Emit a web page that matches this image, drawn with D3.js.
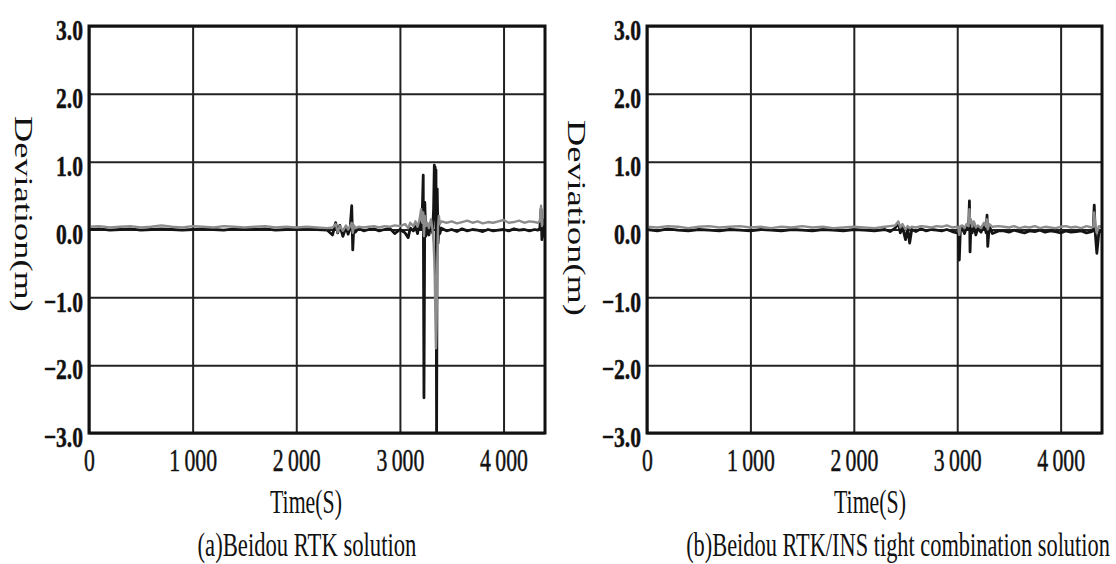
<!DOCTYPE html>
<html>
<head>
<meta charset="utf-8">
<script src="https://cdn.jsdelivr.net/npm/d3@7"></script>
<style>
  body { margin: 0; background: #fff; }
  svg { display: block; background: #fff; }
</style>
</head>
<body>
<svg width="1116" height="564"></svg>
<script>
// time stamps (s) and deviations (m)
var timesA = [
    0, 100, 200, 300, 400, 500, 600, 700, 800, 900, 1000, 1100, 1200, 1300, 1400, 1500, 1600, 1700, 1800, 1900, 2000, 2100, 2200, 2300,
    2350, 2380, 2400, 2420, 2450, 2480, 2500, 2520, 2535, 2545, 2555, 2570, 2600, 2650, 2700, 2750, 2800, 2850, 2900, 2950, 3000,
    3050, 3080, 3100, 3130, 3150, 3170, 3190, 3205, 3215, 3225, 3232, 3240, 3250, 3265, 3280, 3300, 3315, 3325, 3332, 3336, 3340, 3344, 3348, 3354, 3360, 3368, 3376, 3385, 3400,
    3450, 3500, 3550, 3600, 3650, 3700, 3750, 3800, 3850, 3900, 3950, 4000, 4050, 4100, 4150, 4200, 4250, 4300, 4330, 4350, 4362, 4370, 4380, 4390, 4400
];
var blackA = [
    0.00, 0.01, -0.01, 0.00, 0.01, -0.01, 0.00, 0.01, 0.00, -0.01, 0.00, 0.01, 0.00, -0.01, 0.01, 0.00, 0.00, 0.01, -0.01, 0.00, 0.00, 0.01, 0.00, -0.01,
    -0.08, 0.10, -0.05, 0.06, -0.10, 0.04, -0.07, 0.02, 0.35, -0.30, 0.05, -0.04, 0.02, -0.02, 0.00, 0.01, -0.02, 0.00, 0.02, -0.06, 0.00,
    -0.05, -0.12, 0.02, -0.02, 0.05, -0.06, 0.10, 0.00, 0.20, 0.80, -2.48, 0.40, -0.10, 0.05, -0.08, 0.10, -0.05, 0.30, 0.95, 0.15, 0.92, 0.20, 0.88, -3.05, 0.60, -0.20, 0.05, -0.06, 0.02,
    -0.02, 0.00, -0.03, 0.01, -0.02, 0.00, -0.01, -0.03, 0.00, -0.02, -0.01, 0.00, -0.02, 0.01, -0.01, 0.00, -0.02, 0.00, -0.01, 0.02, 0.30, -0.15, 0.05, -0.10, 0.00
];
var grayA = [
    0.04, 0.05, 0.03, 0.04, 0.05, 0.03, 0.04, 0.06, 0.04, 0.03, 0.05, 0.04, 0.03, 0.05, 0.04, 0.03, 0.04, 0.05, 0.03, 0.04, 0.03, 0.04, 0.03, 0.02,
    0.03, 0.08, -0.04, 0.05, -0.02, 0.06, 0.00, 0.05, 0.10, -0.05, 0.06, 0.02, 0.04, 0.03, 0.04, 0.05, 0.03, 0.05, 0.04, 0.06, 0.05,
    0.08, 0.02, 0.10, 0.05, 0.12, 0.04, 0.15, 0.30, 0.10, 0.25, -0.10, 0.20, 0.05, 0.10, 0.02, 0.15, 0.00, -0.20, -0.45, -0.70, -1.05, -1.40, -1.75, -1.40, -0.50, 0.05, 0.20, 0.08, 0.12,
    0.10, 0.12, 0.09, 0.11, 0.13, 0.10, 0.12, 0.09, 0.11, 0.10, 0.12, 0.14, 0.10, 0.11, 0.13, 0.10, 0.12, 0.11, 0.10, 0.12, 0.35, 0.05, 0.15, 0.08, 0.10
];

var timesB = [
    0, 100, 200, 300, 400, 500, 600, 700, 800, 900, 1000, 1100, 1200, 1300, 1400, 1500, 1600, 1700, 1800, 1900, 2000, 2100, 2200, 2300,
    2350, 2400, 2430, 2450, 2470, 2500, 2520, 2540, 2560, 2600, 2650, 2700, 2750, 2800, 2850, 2900, 2950, 3000,
    3010, 3020, 3030, 3050, 3070, 3090, 3110, 3118, 3124, 3132, 3145, 3160, 3180, 3200, 3230, 3260, 3280, 3288, 3295, 3310, 3340, 3400,
    3450, 3500, 3550, 3600, 3650, 3700, 3750, 3800, 3850, 3900, 3950, 4000, 4050, 4100, 4150, 4200, 4250, 4300, 4315, 4325, 4335, 4350, 4370, 4400
];
var blackB = [
    0.00, -0.02, 0.01, -0.01, -0.02, 0.00, -0.01, -0.02, 0.00, -0.01, -0.02, 0.00, -0.01, -0.02, 0.00, -0.01, -0.02, 0.00, -0.01, -0.02, 0.00, -0.01, -0.02, 0.00,
    -0.03, 0.02, 0.10, -0.05, 0.04, -0.15, 0.02, -0.20, 0.00, -0.03, 0.01, -0.02, 0.00, -0.01, -0.02, 0.00, -0.03, -0.05,
    -0.05, -0.45, -0.02, 0.02, -0.06, 0.03, 0.00, 0.42, -0.33, 0.05, -0.05, 0.10, -0.08, 0.02, -0.04, 0.08, -0.05, 0.21, -0.25, 0.05, -0.06, -0.02,
    -0.02, -0.04, -0.01, -0.03, -0.05, -0.02, -0.03, -0.01, -0.04, -0.02, -0.03, -0.05, -0.02, -0.04, -0.03, -0.02, -0.05, -0.03, -0.02, 0.36, -0.05, -0.35, -0.04, -0.03
];
var grayB = [
    0.04, 0.03, 0.05, 0.04, 0.02, 0.04, 0.05, 0.03, 0.04, 0.05, 0.03, 0.04, 0.02, 0.04, 0.03, 0.05, 0.03, 0.04, 0.02, 0.03, 0.04, 0.03, 0.02, 0.04,
    0.05, 0.06, 0.12, 0.03, 0.08, 0.00, 0.05, 0.02, 0.04, 0.03, 0.05, 0.04, 0.03, 0.05, 0.04, 0.06, 0.03, 0.04,
    0.03, -0.08, 0.05, 0.06, 0.02, 0.08, 0.05, 0.30, 0.10, 0.15, 0.04, 0.12, 0.03, 0.06, 0.02, 0.10, 0.04, 0.15, 0.00, 0.08, 0.04, 0.05,
    0.04, 0.03, 0.05, 0.02, 0.04, 0.03, 0.05, 0.02, 0.04, 0.03, 0.02, 0.04, 0.05, 0.03, 0.04, 0.02, 0.05, 0.03, 0.04, 0.25, 0.06, -0.05, 0.05, 0.04
];

var xTicks = [0, 1000, 2000, 3000, 4000];
var yTicks = [-3, -2, -1, 0, 1, 2, 3];
var xTitle = 'Time(S)';
var yTitle = 'Deviation(m)';
var captions = ['(a)Beidou RTK solution', '(b)Beidou RTK/INS tight combination solution'];

var serif = "'Liberation Serif', 'Times New Roman', serif";
var plotTop = 26,
    plotBottom = 433;

var svg = d3.select('svg');

var locale = d3.formatLocale({ decimal: '.', thousands: '\u2009', grouping: [3], currency: ['', ''], minus: '\u2212' });
var fmtX = locale.format(',d'),
    fmtY = locale.format('.1f');

// narrow serif text: measure it, then squeeze it to the wanted width
function squeezedText(parent, str, cx, cy, size, width, rotate) {
    var t = parent.append('text')
        .attr('text-anchor', 'middle')
        .style('font-family', serif)
        .style('font-size', size + 'px')
        .attr('fill', '#111')
        .text(str);
    var natural = t.node().getComputedTextLength();
    var k = width / natural;
    if (rotate) {
        t.attr('transform', 'translate(' + cx + ',' + cy + ') scale(0.7,' + k + ') rotate(90)');
    } else {
        t.attr('transform', 'translate(' + cx + ',' + cy + ') scale(' + k + ',1)');
    }
    return t;
}

function drawPanel(p) {
    var x = d3.scaleLinear().domain([0, 4400]).range([p.left, p.right]),
        y = d3.scaleLinear().domain([-3, 3]).range([plotBottom, plotTop]),
        g = svg.append('g');

    // horizontal grid and y labels
    var gy = g.append('g')
        .attr('transform', 'translate(' + p.left + ',0)')
        .call(d3.axisLeft(y).tickValues(yTicks).tickFormat(fmtY).tickSize(-(p.right - p.left)).tickPadding(0));
    gy.select('.domain').remove();
    gy.selectAll('line').attr('stroke', '#222').attr('stroke-width', 2);
    gy.selectAll('text')
        .attr('x', -6 / 0.72)
        .attr('y', 3)
        .attr('dy', '0.36em')
        .attr('transform', 'scale(0.72,1)')
        .attr('fill', '#111')
        .attr('stroke', '#111')
        .attr('stroke-width', 0.5)
        .style('font-family', serif)
        .style('font-size', '30px')
        .style('font-weight', 'bold');

    // vertical grid and x labels
    var gx = g.append('g')
        .attr('transform', 'translate(0,' + plotBottom + ')')
        .call(d3.axisBottom(x).tickValues(xTicks).tickFormat(fmtX).tickSize(-(plotBottom - plotTop)).tickPadding(15));
    gx.select('.domain').remove();
    gx.selectAll('line').attr('stroke', '#222').attr('stroke-width', 2);
    gx.selectAll('text')
        .attr('transform', 'scale(0.68,1)')
        .attr('fill', '#111')
        .attr('stroke', '#111')
        .attr('stroke-width', 0.5)
        .style('font-family', serif)
        .style('font-size', '32px');

    var clipId = 'clip' + p.key;
    g.append('clipPath').attr('id', clipId)
        .append('rect')
        .attr('x', p.left).attr('y', plotTop)
        .attr('width', p.right - p.left).attr('height', plotBottom - plotTop);

    var line = d3.line()
        .x(function (d) { return x(d[0]); })
        .y(function (d) { return y(d[1]); });

    var lines = g.append('g').attr('clip-path', 'url(#' + clipId + ')');
    lines.append('path')
        .datum(p.times.map(function (t, i) { return [t, p.black[i]]; }))
        .attr('fill', 'none')
        .attr('stroke', '#141414')
        .attr('stroke-width', 2.8)
        .attr('stroke-linejoin', 'round')
        .attr('d', line);
    lines.append('path')
        .datum(p.times.map(function (t, i) { return [t, p.gray[i]]; }))
        .attr('fill', 'none')
        .attr('stroke', '#8c8c8c')
        .attr('stroke-width', 2.4)
        .attr('stroke-linejoin', 'round')
        .attr('d', line);

    g.append('rect')
        .attr('x', p.left).attr('y', plotTop)
        .attr('width', p.right - p.left).attr('height', plotBottom - plotTop)
        .attr('fill', 'none')
        .attr('stroke', '#111')
        .attr('stroke-width', 3);

    // axis titles and caption
    squeezedText(g, xTitle, p.timeX, 513, 34, 72, false);
    squeezedText(g, yTitle, p.devX, p.devY, 36, 196, true);
    squeezedText(g, p.caption, p.capX, 556, 34, p.capW, false);
}

drawPanel({ key: 'a', left: 89, right: 545, times: timesA, black: blackA, gray: grayA,
    timeX: 306, devX: 15, devY: 214, capX: 307, capW: 219, caption: captions[0] });
drawPanel({ key: 'b', left: 647, right: 1102, times: timesB, black: blackB, gray: grayB,
    timeX: 870, devX: 568, devY: 218, capX: 898, capW: 424, caption: captions[1] });
</script>
</body>
</html>
